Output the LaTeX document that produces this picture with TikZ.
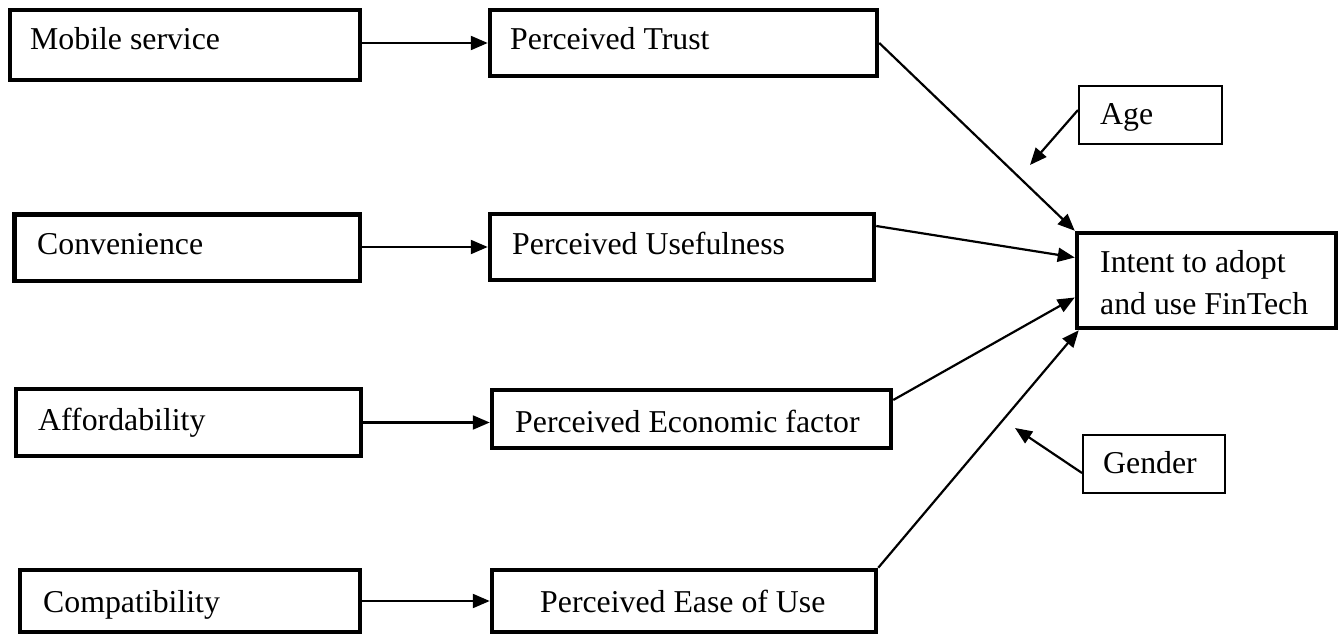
\documentclass[tikz,border=0pt]{standalone}
\usepackage{fontspec}
\setmainfont{Liberation Serif}
\usetikzlibrary{arrows.meta}
\tikzset{
  thickbox/.style={draw=black, line width=4.5pt, rectangle, inner sep=0pt, fill=white},
  thinbox/.style={draw=black, line width=2pt, rectangle, inner sep=0pt, fill=white},
  lbl/.style={anchor=base west, inner sep=0pt, font=\fontsize{31.8}{42}\selectfont},
  arr/.style={line width=2.2pt, -{Triangle[length=17pt,width=14pt]}},
}
\begin{document}
\begin{tikzpicture}[x=1pt,y=-1pt]
\useasboundingbox (0,0) rectangle (1339,636);
% left column
\node[thickbox, minimum width=350pt, minimum height=70pt] (ms) at (185,45) {};
\node[lbl] (msT) at (30,50) {Mobile service};
\node[thickbox, minimum width=345.5pt, minimum height=66.5pt] (cv) at (187.25,247.75) {};
\node[lbl] (cvT) at (37,255) {Convenience};
\node[thickbox, minimum width=345pt, minimum height=67pt] (af) at (188.5,422.5) {};
\node[lbl] (afT) at (38,430) {Affordability};
\node[thickbox, minimum width=340pt, minimum height=62pt] (cp) at (190,601) {};
\node[lbl] (cpT) at (43,612) {Compatibility};
% middle column
\node[thickbox, minimum width=387pt, minimum height=66pt] (pt) at (683.5,43) {};
\node[lbl] (ptT) at (510,50) {Perceived Trust};
\node[thickbox, minimum width=384pt, minimum height=66pt] (pu) at (682,247) {};
\node[lbl] (puT) at (512,255) {Perceived Usefulness};
\node[thickbox, minimum width=399pt, minimum height=58pt] (pe) at (691.5,419) {};
\node[lbl] (peT) at (515,432) {Perceived Economic factor};
\node[thickbox, minimum width=384pt, minimum height=62pt] (pq) at (684,601) {};
\node[lbl] (pqT) at (540,612) {Perceived Ease of Use};
% right
\node[thickbox, minimum width=259pt, minimum height=95pt] (it) at (1206.5,280.5) {};
\node[lbl] (itT1) at (1100,273) {Intent to adopt};
\node[lbl] (itT2) at (1100,315) {and use FinTech};
\node[thinbox, minimum width=143pt, minimum height=58pt] (age) at (1150.5,115) {};
\node[lbl] (ageT) at (1100,125) {Age};
\node[thinbox, minimum width=142pt, minimum height=58pt] (gd) at (1154,464) {};
\node[lbl] (gdT) at (1103,473) {Gender};
\coordinate (ageTip) at (1030,165);
\coordinate (gdTip) at (1015,428);
% connectors
\draw[arr] (ms.east |- pt.west) -- (pt.west);
\draw[arr] (cv.east |- pu.west) -- (pu.west);
\draw[arr] (af.east) -- (af.east -| pe.west);
\draw[arr] (cp.east) -- (pq.west);
\draw[arr] (pt.east) -- (it.north west);
\draw[arr] ([yshift=21pt]pu.east) -- ([yshift=23pt]it.west);
\draw[arr] ([yshift=19pt]pe.east) -- ([yshift=-17pt]it.west);
\draw[arr] (pq.north east) -- ([xshift=4pt]it.south west);
\draw[arr] ([yshift=5pt]age.west) -- (ageTip);
\draw[arr] ([yshift=-9pt]gd.west) -- (gdTip);
\end{tikzpicture}
\end{document}
